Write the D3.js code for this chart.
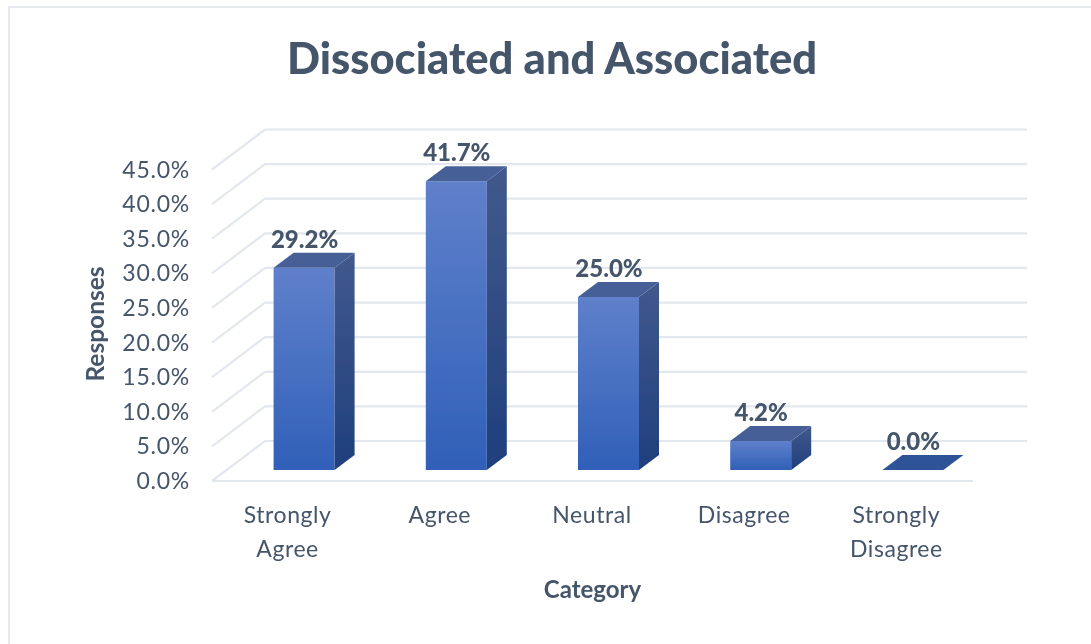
<!DOCTYPE html>
<html><head><meta charset="utf-8">
<script src="https://cdn.jsdelivr.net/npm/d3@7/dist/d3.min.js"></script>
<style>html,body{margin:0;padding:0;background:#fff}svg{display:block}text{font-family:Lato,"Open Sans",sans-serif}</style>
</head><body><svg id="c" width="1091" height="644"></svg>
<script>
const categories=[["Strongly","Agree"],["Agree"],["Neutral"],["Disagree"],["Strongly","Disagree"]];
const values=[29.2,41.7,25.0,4.2,0.0];
const valueLabels=["29.2%","41.7%","25.0%","4.2%","0.0%"];
const yTicks=[0,5,10,15,20,25,30,35,40,45];
const titleText="Dissociated and Associated";
const yTitle="Responses", xTitle="Category";
const ink="#44546a";

const svg=d3.select("#c");
const x=d3.scaleBand().domain(d3.range(categories.length)).range([212,973]);
const y=d3.scaleLinear().domain([0,45]).range([481,169.5]);
const depth={dx:53,dy:-40}, barOff={dx:16,dy:-11}, barDepth={dx:20,dy:-15}, barW=61;

const defs=svg.append("defs");
function grad(id,a,b){const g=defs.append("linearGradient").attr("id",id).attr("x1",0).attr("y1",0).attr("x2",0).attr("y2",1);
 g.append("stop").attr("offset",0).attr("stop-color",a);g.append("stop").attr("offset",1).attr("stop-color",b);}
grad("front","#5f80cb","#3060b8");
grad("side","#41598c","#1f3f7d");
defs.append("filter").attr("id","soft").append("feGaussianBlur").attr("stdDeviation",0.5);

const root=svg.append("g").attr("filter","url(#soft)");
root.append("path").attr("d","M9,644V7H1091").attr("fill","none").attr("stroke","#e6e9ef").attr("stroke-width",2);

root.append("text").attr("x",552).attr("y",74).attr("text-anchor","middle").attr("font-size",43.5).attr("font-weight",900).attr("fill",ink).text(titleText);

// walls
const grid="#e3e7ee";
const g=root.append("g").attr("fill","none").attr("stroke",grid).attr("stroke-width",2.2);
yTicks.forEach(t=>{
  const p=d3.path();
  p.moveTo(212,y(t));p.lineTo(212+depth.dx,y(t)+depth.dy);p.lineTo(1027,y(t)+depth.dy);
  g.append("path").attr("d",p.toString());
});
g.append("line").attr("x1",212).attr("x2",973).attr("y1",y(0)).attr("y2",y(0));

// y labels
root.append("g").selectAll("text").data(yTicks).join("text")
 .attr("x",190).attr("y",d=>y(d)+8).attr("text-anchor","end").attr("font-size",23).attr("letter-spacing",0.75).attr("fill",ink)
 .text(d=>d.toFixed(1)+"%");

// bars
const bars=root.append("g").selectAll("g").data(values).join("g");
bars.each(function(v,i){
  const s=d3.select(this);
  const l=x(i)+x.bandwidth()/2+barOff.dx-barW/2, r=l+barW, base=y(0)+barOff.dy, top=base-(y(0)-y(v));
  const poly=(pts,fill)=>s.append("polygon").attr("points",pts.map(q=>q.join(",")).join(" ")).attr("fill",fill);
  if(v>0){
    poly([[l,top],[r,top],[r,base],[l,base]],"url(#front)");
    poly([[r,top],[r+barDepth.dx,top+barDepth.dy],[r+barDepth.dx,base+barDepth.dy],[r,base]],"url(#side)");
  }
  poly([[l,top],[r,top],[r+barDepth.dx,top+barDepth.dy],[l+barDepth.dx,top+barDepth.dy]],v>0?"#465f97":"#2f5296");
  s.append("text").attr("x",(l+r)/2+0.5).attr("y",top+barDepth.dy-5).attr("text-anchor","middle")
   .attr("font-size",24).attr("font-weight",900).attr("fill",ink).text(valueLabels[i]);
});

// category labels
root.append("g").selectAll("text").data(categories).join("text")
 .attr("text-anchor","middle").attr("font-size",23).attr("letter-spacing",0.55).attr("fill",ink)
 .each(function(c,i){
   d3.select(this).selectAll("tspan").data(c).join("tspan")
    .attr("x",x(i)+x.bandwidth()/2-0.5).attr("y",(d,j)=>523+j*34).text(d=>d);
 });

root.append("text").attr("x",592.5).attr("y",598).attr("text-anchor","middle").attr("font-size",24).attr("font-weight",700).attr("fill",ink).text(xTitle);
root.append("text").attr("transform","translate(104,324) rotate(-90)").attr("text-anchor","middle").attr("font-size",24.5).attr("font-weight",700).attr("fill",ink).text(yTitle);
</script></body></html>
